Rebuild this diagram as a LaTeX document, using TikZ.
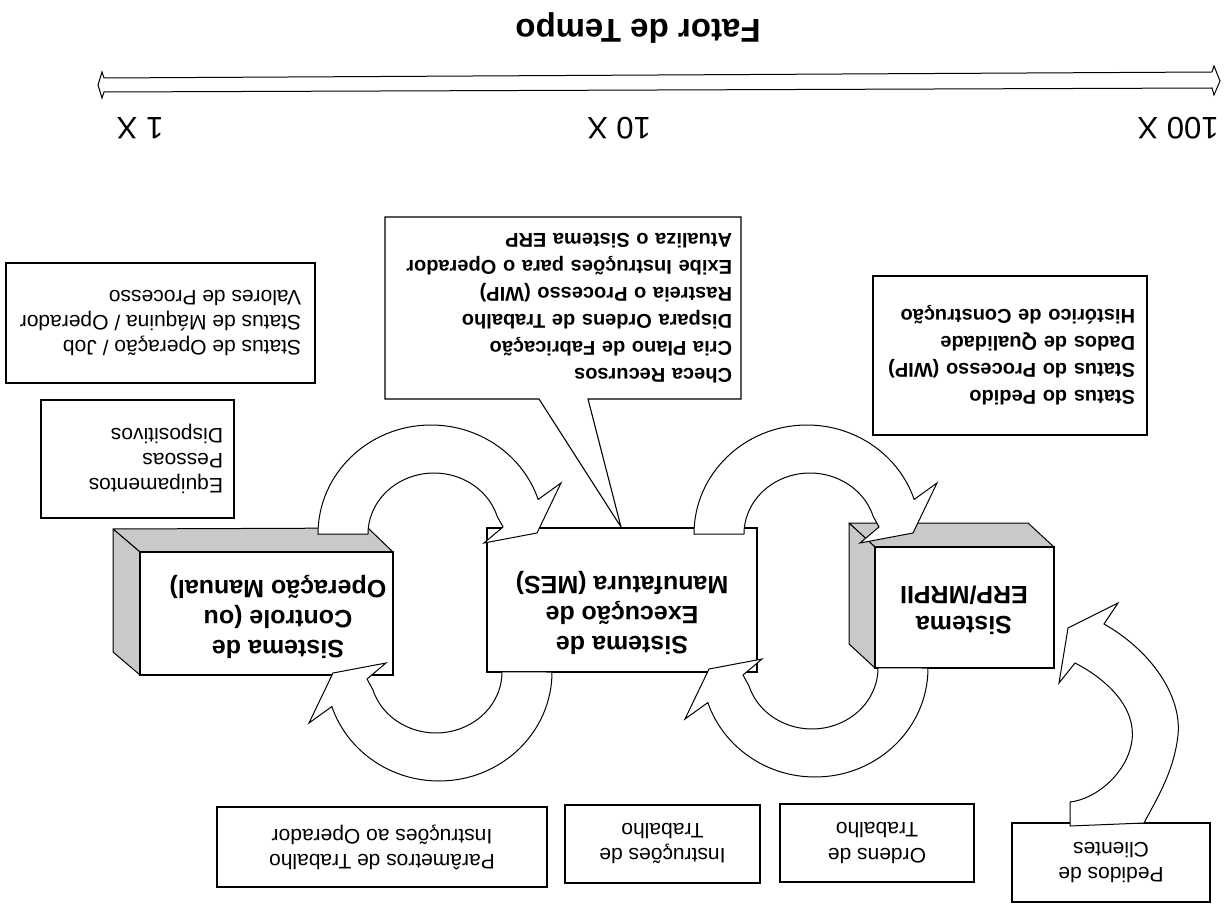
\documentclass[tikz,border=0pt]{standalone}
\usepackage{fontspec}
\setmainfont{Liberation Sans}
\begin{document}
\begin{tikzpicture}[x=1pt,y=-1pt,
  every node/.style={rotate=180, inner sep=0pt},
  box/.style={draw, line width=1.1pt, fill=white},
  body/.style={font=\fontsize{21}{25}\selectfont},
  bodybold/.style={font=\fontsize{20}{27}\selectfont\bfseries},
  sysname/.style={font=\fontsize{25}{30}\selectfont\bfseries, align=center},
  face/.style={draw, line width=1pt, fill=gray!42, line join=round},
  flow/.style={draw, line width=1pt, fill=white, line join=miter},
]
\useasboundingbox (0,0) rectangle (1224,904);

% time axis
\node (title) at (638,28) {\fontsize{33}{40}\selectfont\bfseries Fator de Tempo};
\draw[line width=1pt, fill=white, line join=miter]
  (98,85) -- (102,72) -- (104,78) -- (1212,72) -- (1214,66) -- (1220,81)
  -- (1214,95) -- (1212,88) -- (104,92) -- (102,98) -- cycle;
\node (x1)   at (140,128)  {\fontsize{31}{36}\selectfont 1 X};
\node (x10)  at (619,128)  {\fontsize{31}{36}\selectfont 10 X};
\node (x100) at (1178,128) {\fontsize{31}{36}\selectfont 100 X};

% information boxes
\node[box, body, align=left, minimum width=309, minimum height=120]
  (oper) at (160.5,323) {Status de Operação / Job\\Status de Máquina / Operador\\Valores de Processo};
\node[box, body, align=left, text width=171, inner xsep=11, minimum height=118]
  (equip) at (137.5,459) {Equipamentos\\Pessoas\\Dispositivos};
\node[box, bodybold, align=left, text width=250, inner xsep=12, minimum height=159]
  (erpdata) at (1010,355.5) {Status do Pedido\\Status do Processo (WIP)\\Dados de Qualidade\\Histórico de Construção};

% callout of the MES functions
\draw[line width=1.1pt, fill=white, line join=miter]
  (385,217) -- (741,217) -- (741,399) -- (588,399) -- (621,527)
  -- (539,399) -- (385,399) -- cycle;
\node[bodybold, align=left, text width=338, inner xsep=9]
  (mesdata) at (563,308) {Checa Recursos\\Cria Plano de Fabricação\\Dispara Ordens de Trabalho\\Rastreia o Processo (WIP)\\Exibe Instruções para o Operador\\Atualiza o Sistema ERP};

% bottom boxes
\node[box, body, align=center, minimum width=330, minimum height=80]
  (param) at (382,847) {Parâmetros de Trabalho\\Instruções ao Operador};
\node[box, body, align=center, minimum width=195, minimum height=78]
  (instr) at (662.5,844) {Instruções de\\Trabalho};
\node[box, body, align=center, minimum width=194, minimum height=78]
  (ordens) at (877,843) {Ordens de\\Trabalho};
\node[box, body, align=center, minimum width=198, minimum height=79]
  (pedidos) at (1111,862.5) {Pedidos de\\Clientes};

% control system block
\path[face] (113,529) -- (368,528) -- (393,552) -- (140,552) -- cycle;
\path[face] (113,529) -- (140,552) -- (140,675) -- (113,652) -- cycle;
\node[box, minimum width=253, minimum height=123] (ctrl) at (266.5,613.5) {};
\node[sysname] (ctrltext) at (278,617) {Sistema de\\Controle (ou\\Operação Manual)};

% MES block
\node[box, minimum width=270, minimum height=144] (mes) at (622,600) {};
\node[sysname] (mestext) at (622,613) {Sistema de\\Execução de\\Manufatura (MES)};

% ERP block
\path[face] (849,523) -- (1028,523) -- (1054,547) -- (875,547) -- cycle;
\path[face] (849,523) -- (875,547) -- (875,668) -- (849,644) -- cycle;
\node[box, minimum width=179, minimum height=121] (erp) at (964.5,607.5) {};
\node[sysname] (erptext) at (964,610) {Sistema\\ERP/MRPII};

% curved block arrows between the systems
\newcommand\loopflow{%
  \path[flow] (694,534) arc[start angle=180, end angle=341.5, x radius=113, y radius=109]
    -- (937,483) -- (913,533) -- (860,543) -- (879,527) -- (873.1,516.2)
    arc[start angle=343, end angle=180, x radius=66, y radius=61] -- cycle;}
\loopflow
\begin{scope}[shift={(-376,0)}]\loopflow\end{scope}
\begin{scope}[rotate around={180:(811,601)}]\loopflow\end{scope}
\begin{scope}[rotate around={180:(623,603)}]\loopflow\end{scope}

% customer orders arrow
\path[flow] (1070,826) -- (1070,802)
  .. controls (1097,799) and (1128,772) .. (1132,740)
  .. controls (1136,708) and (1108,680) .. (1075,663)
  -- (1059,683) -- (1068,628) -- (1118,603) -- (1104,624)
  .. controls (1150,650) and (1182,695) .. (1178,735)
  .. controls (1174,772) and (1156,800) .. (1144,823) -- cycle;
\end{tikzpicture}
\end{document}
